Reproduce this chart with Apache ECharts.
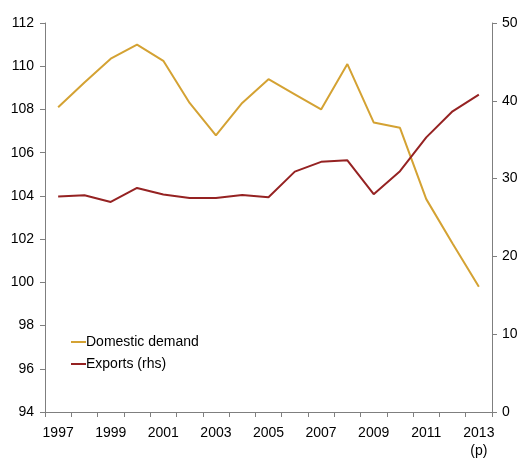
<!DOCTYPE html>
<html><head><meta charset="utf-8">
<script src="https://cdn.jsdelivr.net/npm/echarts@6/dist/echarts.min.js"></script>
<style>html,body{margin:0;padding:0;background:#fff}#c{width:525px;height:460px}</style>
</head><body><div id="c"></div>
<script>
const years = ['1997','1998','1999','2000','2001','2002','2003','2004','2005','2006','2007','2008','2009','2010','2011','2012','2013\n(p)'];
const domesticDemand = [108.1, 109.25, 110.35, 111.0, 110.25, 108.3, 106.8, 108.3, 109.4, 108.7, 108.0, 110.1, 107.4, 107.15, 103.85, 101.8, 99.8];
const exportsRhs = [27.7, 27.85, 27.0, 28.8, 27.95, 27.5, 27.5, 27.9, 27.6, 30.9, 32.15, 32.35, 28.0, 30.95, 35.3, 38.65, 40.8];
const leftTicks = {min: 94, max: 112, interval: 2};
const rightTicks = {min: 0, max: 50, interval: 10};

const chart = echarts.init(document.getElementById('c'));
const axisCol = '#7f7f7f';
const font = 'Liberation Sans, Arial, sans-serif';
const fs = 14;
chart.setOption({
  animation: false,
  textStyle: {fontFamily: font},
  grid: {left: 45, right: 33, top: 23, bottom: 46, containLabel: false},
  legend: {
    orient: 'vertical', left: 66, top: 330, itemGap: 8,
    itemWidth: 15, itemHeight: 2, icon: 'rect',
    textStyle: {fontSize: fs, color: '#000', fontFamily: font, padding: [0,0,0,-5]},
    data: ['Domestic demand', 'Exports (rhs)']
  },
  xAxis: {
    type: 'category', data: years, boundaryGap: true,
    axisLine: {lineStyle: {color: axisCol}},
    axisTick: {show: true, interval: 0, length: 5, inside: false, lineStyle: {color: axisCol}},
    axisLabel: {interval: 1, color: '#000', fontSize: fs, margin: 12, lineHeight: 18, fontFamily: font}
  },
  yAxis: [
    {type: 'value', min: leftTicks.min, max: leftTicks.max, interval: leftTicks.interval, position: 'left',
     splitLine: {show: false},
     axisLine: {show: true, lineStyle: {color: axisCol}},
     axisTick: {show: true, length: 5, lineStyle: {color: axisCol}},
     axisLabel: {color: '#000', fontSize: fs, margin: 11, fontFamily: font}},
    {type: 'value', min: rightTicks.min, max: rightTicks.max, interval: rightTicks.interval, position: 'right',
     splitLine: {show: false},
     axisLine: {show: true, lineStyle: {color: axisCol}},
     axisTick: {show: true, length: 5, lineStyle: {color: axisCol}},
     axisLabel: {color: '#000', fontSize: fs, margin: 10, fontFamily: font}}
  ],
  series: [
    {name: 'Domestic demand', type: 'line', yAxisIndex: 0, data: domesticDemand,
     symbol: 'none', lineStyle: {color: '#D4A233', width: 2}, itemStyle: {color: '#D4A233'}},
    {name: 'Exports (rhs)', type: 'line', yAxisIndex: 1, data: exportsRhs,
     symbol: 'none', lineStyle: {color: '#952222', width: 2}, itemStyle: {color: '#952222'}}
  ]
});
</script></body></html>
